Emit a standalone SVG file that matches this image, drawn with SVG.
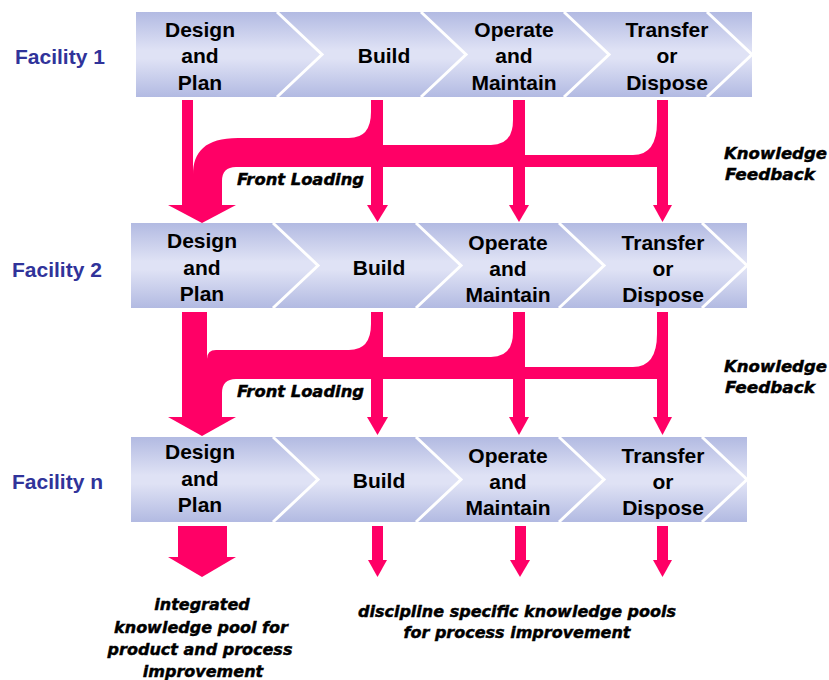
<svg xmlns="http://www.w3.org/2000/svg" width="829" height="680" viewBox="0 0 829 680">
<style>
.band{fill:url(#bg)}
.chev{fill:none;stroke:#fff;stroke-width:3}
.lbl{font-family:"Liberation Sans",Arial,sans-serif;font-weight:bold;font-size:21px;fill:#000;text-anchor:middle}
.fac{font-family:"Liberation Sans",Arial,sans-serif;font-weight:bold;font-size:21px;fill:#30339a}
.it{font-family:"DejaVu Sans",sans-serif;font-weight:bold;font-style:italic;font-size:16px;fill:#000;stroke:#000;stroke-width:0.45}
.pk{fill:#ff0066}
</style>
<defs>
<linearGradient id="bg" x1="0" y1="0" x2="0" y2="1">
<stop offset="0" stop-color="#b2bae2"/>
<stop offset="0.45" stop-color="#dfe2f5"/>
<stop offset="0.55" stop-color="#dfe2f5"/>
<stop offset="1" stop-color="#b2bae2"/>
</linearGradient>
</defs>
<rect width="829" height="680" fill="#fff"/>

<!-- Row 1 -->
<g id="facility1">
<text class="fac" x="15" y="64">Facility 1</text>
<rect class="band" x="136" y="12" width="616" height="85"/>
<polyline class="chev" points="277,12 322,54.5 277,97"/>
<polyline class="chev" points="421,12 466,54.5 421,97"/>
<polyline class="chev" points="564,12 609,54.5 564,97"/>
<polyline class="chev" points="707,12 752,54.5 707,97"/>
</g>
<g id="f1-design"><text class="lbl" x="200" y="37">Design</text><text class="lbl" x="200" y="63">and</text><text class="lbl" x="200" y="90">Plan</text></g>
<g id="f1-build"><text class="lbl" x="384" y="63">Build</text></g>
<g id="f1-operate"><text class="lbl" x="514" y="37">Operate</text><text class="lbl" x="514" y="63">and</text><text class="lbl" x="514" y="90">Maintain</text></g>
<g id="f1-transfer"><text class="lbl" x="667" y="37">Transfer</text><text class="lbl" x="667" y="63">or</text><text class="lbl" x="667" y="90">Dispose</text></g>

<!-- Row 2 -->
<g id="facility2">
<text class="fac" x="12" y="277">Facility 2</text>
<rect class="band" x="131" y="223" width="616" height="85"/>
<polyline class="chev" points="273,223 318,265.5 273,308"/>
<polyline class="chev" points="416,223 461,265.5 416,308"/>
<polyline class="chev" points="559,223 604,265.5 559,308"/>
<polyline class="chev" points="702,223 747,265.5 702,308"/>
</g>
<g id="f2-design"><text class="lbl" x="202" y="248">Design</text><text class="lbl" x="202" y="275">and</text><text class="lbl" x="202" y="301">Plan</text></g>
<g id="f2-build"><text class="lbl" x="379" y="275">Build</text></g>
<g id="f2-operate"><text class="lbl" x="508" y="250">Operate</text><text class="lbl" x="508" y="276">and</text><text class="lbl" x="508" y="302">Maintain</text></g>
<g id="f2-transfer"><text class="lbl" x="663" y="250">Transfer</text><text class="lbl" x="663" y="276">or</text><text class="lbl" x="663" y="302">Dispose</text></g>

<!-- Row 3 -->
<g id="facilityn">
<text class="fac" x="12" y="489">Facility n</text>
<rect class="band" x="131" y="437" width="616" height="85"/>
<polyline class="chev" points="273,437 318,479.5 273,522"/>
<polyline class="chev" points="416,437 461,479.5 416,522"/>
<polyline class="chev" points="559,437 604,479.5 559,522"/>
<polyline class="chev" points="702,437 747,479.5 702,522"/>
</g>
<g id="fn-design"><text class="lbl" x="200" y="459">Design</text><text class="lbl" x="200" y="486">and</text><text class="lbl" x="200" y="512">Plan</text></g>
<g id="fn-build"><text class="lbl" x="379" y="488">Build</text></g>
<g id="fn-operate"><text class="lbl" x="508" y="463">Operate</text><text class="lbl" x="508" y="489">and</text><text class="lbl" x="508" y="515">Maintain</text></g>
<g id="fn-transfer"><text class="lbl" x="663" y="463">Transfer</text><text class="lbl" x="663" y="489">or</text><text class="lbl" x="663" y="515">Dispose</text></g>

<!-- Connectors -->
<g id="connectors">
<g id="flow1" class="pk">
<path d="M657,122 Q657,155 633,155 L519,155 L519,167 L668,167 L668,122 Z"/>
<path d="M513,120 Q513,145 491,145 L377,145 L377,167 L525,167 L525,120 Z"/>
<path d="M371,112 Q371,138 349,138 L238,138 C205,138 193,152 193,175 L193,206 L222,206 L222,181 Q222,167 236,167 L383,167 L383,112 Z"/>
<rect x="182" y="100" width="11" height="106"/>
<rect x="371" y="100" width="12" height="106"/>
<rect x="513" y="100" width="12" height="106"/>
<rect x="657" y="100" width="11" height="106"/>
<polygon points="168,205 236,205 202,223"/>
<polygon points="367,205 388,205 377.5,222"/>
<polygon points="509,205 529,205 519,222"/>
<polygon points="653,205 672,205 662.5,222"/>
</g>
<g id="flow2" class="pk" transform="translate(0,212)">
<path d="M657,122 Q657,155 633,155 L519,155 L519,167 L668,167 L668,122 Z"/>
<path d="M513,120 Q513,145 491,145 L377,145 L377,167 L525,167 L525,120 Z"/>
<path d="M371,112 Q371,138 349,138 L216,138 Q207,138 207,147 L207,206 L222,206 L222,181 Q222,167 236,167 L383,167 L383,112 Z"/>
<rect x="182" y="100" width="25" height="106"/>
<rect x="371" y="100" width="12" height="106"/>
<rect x="513" y="100" width="12" height="106"/>
<rect x="657" y="100" width="11" height="106"/>
<polygon points="168,205 236,205 202,224"/>
<polygon points="367,205 388,205 377.5,223"/>
<polygon points="509,205 529,205 519,223"/>
<polygon points="653,205 672,205 662.5,223"/>
</g>
<g id="flow3" class="pk">
<rect x="178" y="526" width="49" height="32"/>
<polygon points="168,557 236,557 202,577"/>
<rect x="372" y="526" width="11" height="35"/>
<polygon points="368,560 387,560 377.5,577"/>
<rect x="515" y="526" width="11" height="35"/>
<polygon points="510,560 530,560 520,577"/>
<rect x="657" y="526" width="11" height="35"/>
<polygon points="653,560 672,560 662.5,577"/>
</g>
</g>

<g id="labels">
<text class="it" x="237" y="185" font-size="15.5" textLength="127" lengthAdjust="spacingAndGlyphs">Front Loading</text>
<text class="it" x="237" y="397" font-size="15.5" textLength="127" lengthAdjust="spacingAndGlyphs">Front Loading</text>
<text class="it" x="724" y="159" textLength="103" lengthAdjust="spacingAndGlyphs">Knowledge</text>
<text class="it" x="725" y="180" textLength="90" lengthAdjust="spacingAndGlyphs">Feedback</text>
<text class="it" x="724" y="372" textLength="103" lengthAdjust="spacingAndGlyphs">Knowledge</text>
<text class="it" x="725" y="393" textLength="90" lengthAdjust="spacingAndGlyphs">Feedback</text>
<g text-anchor="middle">
<text class="it" x="202" y="610">integrated</text>
<text class="it" x="201" y="633">knowledge pool for</text>
<text class="it" x="200" y="655">product and process</text>
<text class="it" x="203" y="677">improvement</text>
<text class="it" x="517" y="617">discipline specific knowledge pools</text>
<text class="it" x="517" y="638">for process improvement</text>
</g>
</g>
</svg>
